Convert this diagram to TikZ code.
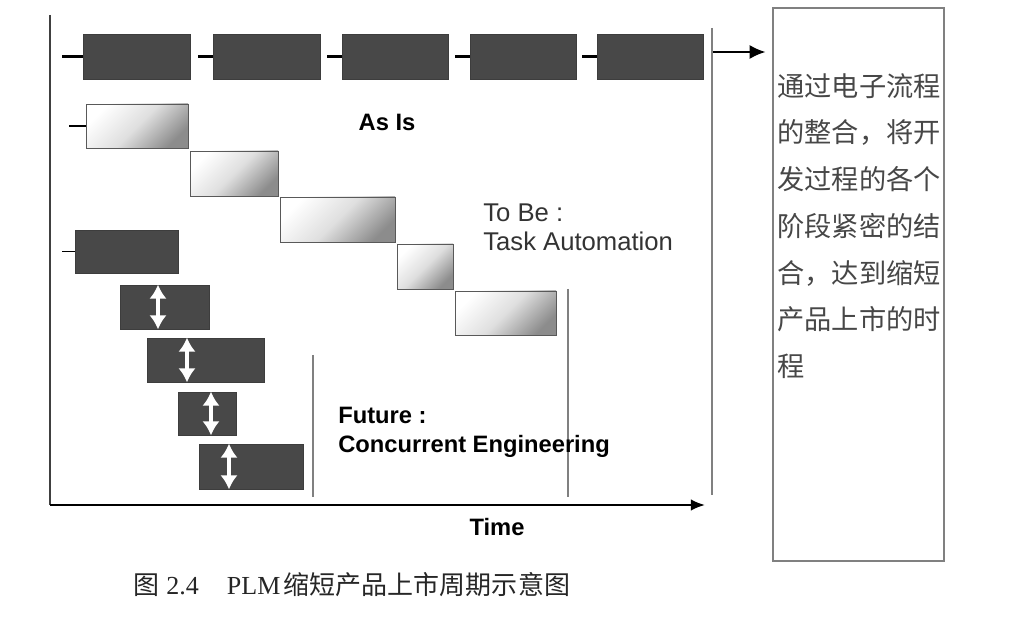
\documentclass[tikz,border=0pt]{standalone}
\usepackage{fontspec}
\setmainfont{Liberation Serif}
\setsansfont{Liberation Sans}
\newfontfamily\cjk{Noto Sans CJK SC}
\usetikzlibrary{arrows.meta}
\usetikzlibrary{positioning}
\usetikzlibrary{fit}
\definecolor{boxdark}{RGB}{72,72,72}
\tikzset{
  darkbox/.style={fill=boxdark, draw=boxdark!85!black, inner sep=0pt},
  shadebox/.style={draw=gray!70!black, inner sep=0pt, top color=white, bottom color=gray!90, middle color=gray!25, shading angle=45},
  lead/.style={line width=1.3pt},
  dblarrow/.style={draw=white, line width=2.2pt, {Latex[length=8pt,width=10pt]}-{Latex[length=8pt,width=10pt]}},
  lbl/.style={font=\sffamily\bfseries\fontsize{13.5}{16.4}\selectfont, anchor=west, inner sep=0pt, align=left},
  thinline/.style={draw=gray, line width=0.6pt},
}
\begin{document}
\begin{tikzpicture}[x=0.02cm, y=-0.02cm]
	\useasboundingbox (0,0) rectangle (1009,618);
	% frame and time axis
	\draw[line width=0.8pt, draw=black!75] (50,15) coordinate (top) -- (50,505) coordinate (origin);
	\coordinate (tend) at (705,505);
	\draw[line width=1.1pt, -{Latex[length=8pt,width=6.5pt]}] (origin) -- (tend);
	\draw[thinline] (712,28) coordinate (rtop) -- (712,495) coordinate (rbot);
	\draw[thinline] (568,289) -- (568,497);
	\draw[thinline] (313,355) -- (313,497);
	% as is: serial chain
	\foreach \i/\xa/\xb in {1/83/190, 2/213/320, 3/342/448, 4/470/576, 5/597/703}
	{
		\node[darkbox, fit={(\xa,34) (\xb,79)}] (t\i) {};
	}
	\draw[lead] (t1.west) -- ++(-21,0);
	\foreach \i in {2,...,5}
		\draw[lead] (t\i.west) -- ++(-15,0);
	% to be: task automation
	\node[shadebox, fit={(86,104) (188,148)}] (a1) {};
	\node[shadebox, fit={(190,151) (278,196)}] (a2) {};
	\node[shadebox, fit={(280,197) (395,242)}] (a3) {};
	\node[shadebox, fit={(397,244) (453,289)}] (a4) {};
	\node[shadebox, fit={(455,291) (556,335)}] (a5) {};
	\draw[lead] (a1.west) -- ++(-17,0);
	% future: concurrent engineering
	\node[darkbox, fit={(75,230) (178,273)}] (f1) {};
	\node[darkbox, fit={(120,285) (209,329)}] (f2) {};
	\node[darkbox, fit={(147,338) (264,382)}] (f3) {};
	\node[darkbox, fit={(178,392) (236,435)}] (f4) {};
	\node[darkbox, fit={(199,444) (303,489)}] (f5) {};
	\draw[lead, line width=0.7pt] (f1.west) -- ++(-13,0);
	\draw[dblarrow] (f2.north -| 158,0) -- (f2.south -| 158,0);
	\draw[dblarrow] (f3.north -| 187,0) -- (f3.south -| 187,0);
	\draw[dblarrow] (f4.north -| 211,0) -- (f4.south -| 211,0);
	\draw[dblarrow] (f5.north -| 229,0) -- (f5.south -| 229,0);
	% labels
	\node[lbl, anchor=center] (asis) at (387,122) {As Is};
	\node[lbl, font=\sffamily\fontsize{14.6}{16.4}\selectfont, text=black!80] (tobe) at (483,227) {To Be :\\Task Automation};
	\node[lbl] (future) at (338,432) {Future :\\Concurrent Engineering};
	\node[lbl, anchor=center] (time) at (497,527) {Time};
	% text box
	\node[draw=gray, line width=0.6pt, inner sep=0pt, fit={(773,8) (944,561)}] (tb) {};
	\draw[line width=1.1pt, -{Latex[length=9pt,width=8pt]}, shorten >=4pt] (713,52) -- (tb.west |- 0,52);
	\node[anchor=north west, inner sep=0pt, align=left, text=black!72, font=\cjk\fontsize{15.5}{26.6}\selectfont] (tbtext) at (777,73)
		{通过电子流程\\的整合，将开\\发过程的各个\\阶段紧密的结\\合，达到缩短\\产品上市的时\\程};
	% caption
	\node[anchor=west, inner sep=0pt, text=black!85, font=\fontsize{14.8}{17}\selectfont] (cap) at (133,585)
		{{\cjk 图}\hspace{4pt}2.4\hspace{16pt}PLM\hspace{2pt}{\cjk 缩短产品上市周期示意图}};
\end{tikzpicture}
\end{document}
